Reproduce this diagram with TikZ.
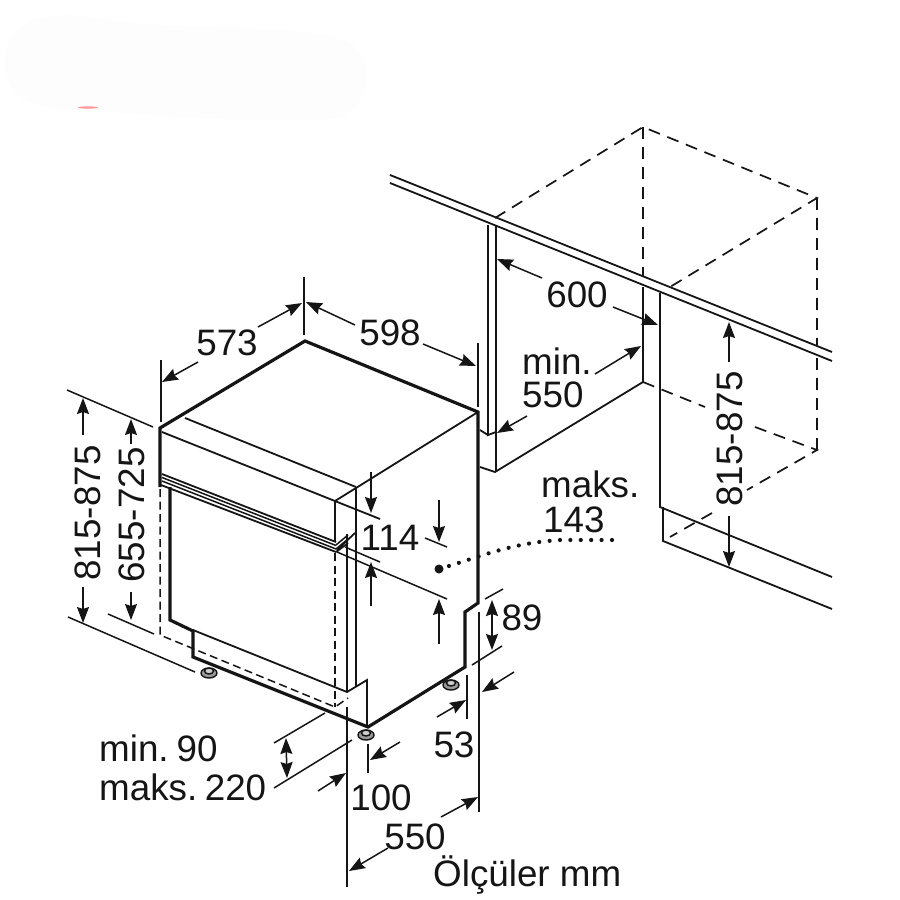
\documentclass[tikz,border=0pt]{standalone}
\usepackage{fontspec}
\setmainfont{Liberation Sans}
\usetikzlibrary{arrows.meta}
\definecolor{ink}{HTML}{151515}
\tikzset{
  thickline/.style={draw=ink,line width=3.2pt,line join=miter},
  thinline/.style={draw=ink,line width=1.8pt},
  wit/.style={draw=ink,line width=1.5pt},
  dashline/.style={draw=ink,line width=1.7pt,dash pattern=on 12pt off 8pt},
  sdash/.style={draw=ink,line width=1.5pt,dash pattern=on 8pt off 4.5pt},
  dim/.style={draw=ink,line width=1.5pt,-{Stealth[length=16pt,width=12pt,inset=2pt]}},
  dimb/.style={draw=ink,line width=1.5pt,{Stealth[length=16pt,width=12pt,inset=2pt]}-{Stealth[length=16pt,width=12pt,inset=2pt]}},
  lab/.style={inner sep=0pt,text=ink,font=\fontsize{36.8}{36.8}\selectfont},
  foot/.style={draw=ink,line width=1.4pt,fill=black!40}
}
\begin{document}
\begin{tikzpicture}[x=1pt,y=-1pt]
\useasboundingbox (0,0) rectangle (900,900);
\fill[white] (0,0) rectangle (900,900);
% faint blob and red mark
\fill[black!0.7] (5,60) .. controls (10,10) and (60,10) .. (120,22) .. controls (200,30) and (300,25) .. (345,40) .. controls (375,55) and (375,100) .. (340,118) .. controls (270,125) and (150,115) .. (60,108) .. controls (25,105) and (5,95) .. (5,60);
\fill[red!40] (88,107.5) ellipse (10 and 1.2);
% --- countertop and niche (right)
\draw[thinline] (390,175) -- (832,352);
\draw[thinline] (390,183) -- (832,361);
\draw[thinline] (488,225) -- (488,435) -- (496,432);
\draw[thinline] (496,225) -- (496,472);
\draw[thinline] (480,430) -- (488,435);
\draw[thinline] (480,467) -- (495,472) -- (643,382);
\draw[thinline] (643,287) -- (643,382);
\draw[thinline] (660,293) -- (660,507) -- (832,577);
\draw[thinline] (663,507) -- (663,541) -- (832,609);
\draw[dashline] (495,218) -- (643,127) -- (817,198) -- (670,287);
\draw[dashline] (643,127) -- (643,277);
\draw[dashline] (817,198) -- (817,345);
\draw[dashline] (817,358) -- (817,450);
\draw[dashline] (643,382) -- (705,407);
\draw[dashline] (755,427) -- (817,450) -- (747,490);
\draw[dashline] (712,513) -- (670,537);
% --- dishwasher body
\draw[thickline] (160,487) -- (160,428) -- (305,341) -- (478,412) -- (478,603) -- (465,612) -- (465,667) -- (368,727) -- (193,657) -- (193,630);
\draw[thickline] (193,631) -- (170,620) -- (170,487);
\draw[thinline] (193,630) -- (347,692) -- (367,680) -- (367,725);
\draw[thinline] (478,412) -- (356,488) -- (335,501);
\draw[thinline] (162,432) -- (380,519);
\draw[thinline] (185,418) -- (356,487);
\draw[thinline] (335,501) -- (335,542);
\draw[thinline] (356,488) -- (356,687);
\draw[thinline] (347,534) -- (347,692);
\draw[thinline] (337,550) -- (355,533);
\draw[thinline] (347,707) -- (347,887);
% handle strip
\draw[thinline] (162,474) -- (336,542);
\draw[wit] (162,477.5) -- (336,545.5);
\draw[wit] (162,481) -- (336,549);
\draw[thinline] (161,485) -- (336,552);
\draw[wit] (336,545) -- (348,535);
\draw[wit] (336,549) -- (348,539);
\draw[thinline] (336,552) -- (348,543);
% dashed outline
\draw[sdash] (160,489) -- (160,635) -- (335,707) -- (348,698);
\draw[sdash] (335,553) -- (335,707);
% feet
\foreach \n/\xx/\yy in {fa/209/671,fb/366/733,fc/451/683}{
  \draw[foot] (\xx,\yy+2) ellipse (8 and 5);
  \draw[foot,fill=black!20] (\xx,\yy) ellipse (4.5 and 3);
}
% --- witness lines
\draw[wit] (67,390) -- (153,427);
\draw[wit] (161,360) -- (161,422);
\draw[wit] (304,277) -- (304,335);
\draw[wit] (478,343) -- (478,407);
\draw[wit] (68,617) -- (195,672);
\draw[wit] (108,614) -- (154,634);
\draw[wit] (337,552) -- (447,599);
\draw[wit] (345,547) -- (380,562);
\draw[wit] (425,538) -- (447,547);
\draw[wit] (485,599) -- (503,589);
\draw[wit] (472,665) -- (502,646);
\draw[wit] (479,612) -- (479,812);
\draw[wit] (467,675) -- (467,719);
\draw[wit] (368,744) -- (368,773);
\draw[wit] (274,743) -- (325,713);
\draw[wit] (274,788) -- (352,740);
% --- labels
\node[lab] (a573) at (227,343) {573};
\node[lab] (a598) at (390,333) {598};
\node[lab] (a600) at (577,295) {600};
\node[lab,anchor=west] (amin) at (522,361) {min.};
\node[lab,anchor=west] (a550) at (522,395) {550};
\node[lab,anchor=west] (amaks) at (541,484) {maks.};
\node[lab,anchor=west] (a143) at (543,520) {143};
\node[lab] (a114) at (390,538) {114};
\node[lab] (a89) at (522,618) {89};
\node[lab] (a53) at (454,745) {53};
\node[lab] (a100) at (381,798) {100};
\node[lab] (b550) at (415,837) {550};
\node[lab,anchor=west] (amin90) at (99,748) {min.\hspace{8pt}90};
\node[lab,anchor=west] (amaks220) at (99,787) {maks.\hspace{7.5pt}220};
\node[lab,anchor=west] (aolc) at (433,875) {Ölçüler mm};
\node[lab,rotate=90] (h1) at (88,513) {815-875};
\node[lab,rotate=90] (h2) at (132,515) {655-725};
\node[lab,rotate=90] (h3) at (730,439) {815-875};
% --- dimension arrows
\draw[dim] (198,362) -- (162,382);
\draw[dim] (258,327) -- (302,303);
\draw[dim] (355,325) -- (306,302);
\draw[dim] (423,344) -- (476,366);
\draw[dim] (542,278) -- (497,259);
\draw[dim] (613,307) -- (658,325);
\draw[dim] (595,374) -- (641,346);
\draw[dim] (527,416) -- (497,433);
\draw[dim] (83,435) -- (83,398);
\draw[dim] (83,587) -- (83,623);
\draw[dim] (131,444) -- (131,419);
\draw[dim] (131,592) -- (131,620);
\draw[dim] (729,362) -- (729,322);
\draw[dim] (729,516) -- (729,567);
\draw[dim] (371,472) -- (371,513);
\draw[dim] (371,606) -- (371,562);
\draw[dim] (439,500) -- (439,542);
\draw[dim] (439,644) -- (439,599);
\draw[dimb] (492,600) -- (492,650);
\draw[dim] (437,717) -- (466,700);
\draw[dim] (514,672) -- (482,692);
\draw[dim] (400,742) -- (370,760);
\draw[dim] (318,791) -- (346,773);
\draw[dim] (441,817) -- (478,797);
\draw[dim] (388,848) -- (349,871);
\draw[dimb] (286,738) -- (287,778);
% --- dotted leader
\draw[draw=ink,line width=4.2pt,line cap=round,dash pattern=on 0pt off 10.4pt] (439,569) .. controls (480,557) and (510,543) .. (560,540) -- (617,540);
\fill[ink] (439,569) circle (4.5);
\end{tikzpicture}
\end{document}
